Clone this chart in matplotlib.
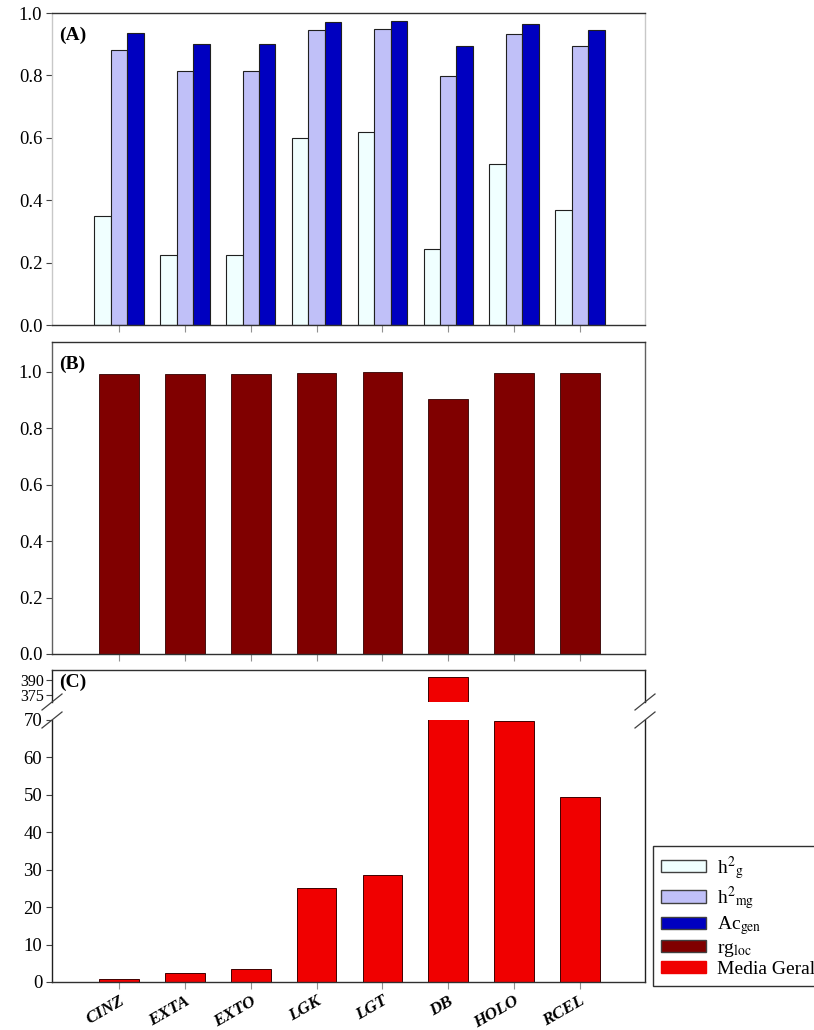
"""Three-panel bar chart: genetic parameters (A), rg_loc (B) and overall means (C)."""

import matplotlib
matplotlib.use("Agg")
import matplotlib.pyplot as plt
import numpy as np
from matplotlib.lines import Line2D
from matplotlib.patches import Patch

plt.rcParams["font.family"] = ["Liberation Serif", "DejaVu Serif"]
plt.rcParams["mathtext.fontset"] = "stix"

# ── Data ────────────────────────────────────────────────────────────── #

traits = ["CINZ", "EXTA", "EXTO", "LGK", "LGT", "DB", "HOLO", "RCEL"]

h2_g = [0.349, 0.225, 0.225, 0.600, 0.617, 0.244, 0.517, 0.370]
h2_mg = [0.882, 0.815, 0.815, 0.946, 0.949, 0.798, 0.933, 0.893]
ac_gen = [0.937, 0.902, 0.902, 0.971, 0.974, 0.893, 0.966, 0.944]

rg_loc = [0.992, 0.994, 0.994, 0.997, 1.000, 0.905, 0.997, 0.997]

media_geral = [0.7, 2.5, 3.5, 25.2, 28.7, 393.0, 69.6, 49.3]

C_H2G = "#F0FFFF"
C_H2MG = "#C0C0F8"
C_AC = "#0000C0"
C_RG = "#800000"
C_MEDIA = "#F00000"
EDGE = "#202020"
LIGHT = "#C8C8C8"

W, H = 814, 1030
x = np.arange(len(traits))
XLIM = (-1.02, 7.99)


def fig_rect(left, top, right, bottom):
    """Pixel box -> figure-fraction [l, b, w, h]."""
    return [left / W, 1 - bottom / H, (right - left) / W, (bottom - top) / H]


def style(ax, side_color, ylim, yticks, fmt="{:.1f}", labelsize=13.5):
    ax.set_xlim(*XLIM)
    ax.set_ylim(*ylim)
    ax.set_yticks(yticks)
    ax.set_yticklabels([fmt.format(v) for v in yticks])
    ax.set_xticks(x)
    ax.tick_params(axis="y", direction="out", length=4, width=0.8,
                   labelsize=labelsize, color="#404040", pad=3)
    ax.tick_params(axis="x", direction="out", length=5, width=0.8,
                   color="#909090", labelbottom=False)
    for s in ("left", "right"):
        ax.spines[s].set_color(side_color)
        ax.spines[s].set_linewidth(1.0)
    for s in ("top", "bottom"):
        ax.spines[s].set_color("#303030")
        ax.spines[s].set_linewidth(1.0)


fig = plt.figure(figsize=(W / 100, H / 100), dpi=100)

# ── Panel A ─────────────────────────────────────────────────────────── #
ax_a = fig.add_axes(fig_rect(52, 13, 645, 325))
bw = 0.25
ax_a.bar(x - bw, h2_g, bw, color=C_H2G, edgecolor=EDGE, linewidth=0.8)
ax_a.bar(x, h2_mg, bw, color=C_H2MG, edgecolor=EDGE, linewidth=0.8)
ax_a.bar(x + bw, ac_gen, bw, color=C_AC, edgecolor=EDGE, linewidth=0.8)
style(ax_a, LIGHT, (0, 1.0), [0.0, 0.2, 0.4, 0.6, 0.8, 1.0])
ax_a.text(0.012, 0.955, "(A)", transform=ax_a.transAxes, fontsize=14,
          fontweight="bold", va="top", ha="left")

# ── Panel B ─────────────────────────────────────────────────────────── #
ax_b = fig.add_axes(fig_rect(52, 342, 645, 654))
ax_b.bar(x, rg_loc, 0.6, color=C_RG, edgecolor="#300000", linewidth=0.6)
style(ax_b, "#606060", (0, 1.106), [0.0, 0.2, 0.4, 0.6, 0.8, 1.0])
ax_b.text(0.012, 0.955, "(B)", transform=ax_b.transAxes, fontsize=14,
          fontweight="bold", va="top", ha="left")

# ── Panel C (broken axis) ───────────────────────────────────────────── #
ax_ct = fig.add_axes(fig_rect(52, 670, 645, 702))
ax_cb = fig.add_axes(fig_rect(52, 720, 645, 982))

for ax in (ax_ct, ax_cb):
    ax.bar(x, media_geral, 0.6, color=C_MEDIA, edgecolor="#400000",
           linewidth=0.7)

style(ax_ct, "#202020", (368, 400), [375, 390], fmt="{:.0f}", labelsize=11.5)
style(ax_cb, "#202020", (0, 70), [0, 10, 20, 30, 40, 50, 60, 70], fmt="{:.0f}")
ax_ct.spines["bottom"].set_visible(False)
ax_ct.tick_params(axis="x", length=0)
ax_ct.tick_params(axis="y", pad=2)
ax_cb.spines["top"].set_visible(False)

ax_cb.set_xticks(x)
ax_cb.set_xticklabels(traits, rotation=30, ha="right", rotation_mode="anchor",
                      fontsize=12.5, fontweight="bold", fontstyle="italic")
ax_cb.tick_params(axis="x", labelbottom=True, pad=3)
ax_ct.text(0.012, 0.9, "(C)", transform=ax_ct.transAxes, fontsize=14,
           fontweight="bold", va="top", ha="left")

# break marks on both sides
for xc in (52, 645):
    for yc in (702, 720):
        fig.add_artist(Line2D([(xc - 10) / W, (xc + 10) / W],
                              [1 - (yc + 8) / H, 1 - (yc - 8) / H],
                              transform=fig.transFigure, color="#404040",
                              linewidth=0.9))

# ── Legend ──────────────────────────────────────────────────────────── #
handles = [
    Patch(facecolor=C_H2G, edgecolor="#404040", label=r"h$^{2}$$_{\mathrm{g}}$"),
    Patch(facecolor=C_H2MG, edgecolor="#404040", label=r"h$^{2}$$_{\mathrm{mg}}$"),
    Patch(facecolor=C_AC, edgecolor="#404040", label=r"Ac$_{\mathrm{gen}}$"),
    Patch(facecolor=C_RG, edgecolor="#404040", label=r"rg$_{\mathrm{loc}}$"),
    Patch(facecolor=C_MEDIA, edgecolor=C_MEDIA, label="Media Geral"),
]
fig.legend(handles=handles, loc="upper left",
           bbox_to_anchor=(653 / W, 1 - 846 / H), fontsize=14,
           frameon=True, fancybox=False, edgecolor="#303030",
           framealpha=1, borderpad=0.4, labelspacing=0.12,
           handlelength=2.3, handleheight=0.6, handletextpad=0.6,
           borderaxespad=0)

fig.savefig("out.png", dpi=100)
